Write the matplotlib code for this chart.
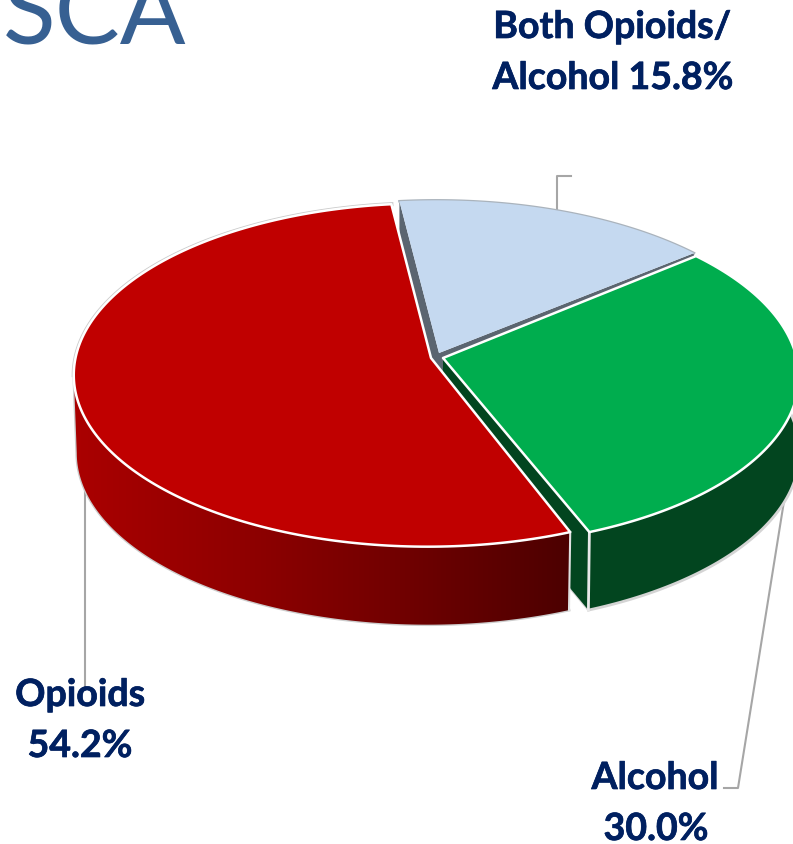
import numpy as np
import matplotlib
matplotlib.use('Agg')
import matplotlib.pyplot as plt
import matplotlib.patheffects as pe
from matplotlib.colors import LinearSegmentedColormap
from matplotlib.patches import Polygon

# chart data
labels = ['Opioids', 'Both Opioids/\nAlcohol', 'Alcohol']
values = [54.2, 15.8, 30.0]
top_colors = ['#c00000', '#c5d9f0', '#00ad4e']
side_colors = ['#5a0000', '#5b6570', '#02451f']
apexes = [(431, 358), (439, 353), (443, 358)]

# pie shape in pixels, the far side is a bit smaller than the near side
RX = 356.0
RY = 170.0
RX_BOTTOM = 349.0
K = 0.099
DEPTH = 78
START = 158.4

red_wall = LinearSegmentedColormap.from_list(
    'red_wall', ['#aa0000', '#900000', '#700000', '#4c0000'])


def rim(apex, t, rx=RX, dy=0, shift=(0, 0), skew=0.0):
    t = np.radians(t)
    w = 1 + K * np.cos(t)
    y = -RY * np.cos(t) / w
    return np.column_stack([apex[0] + shift[0] + rx * np.sin(t) / w + skew * y,
                            apex[1] + shift[1] + dy + y])


fig = plt.figure(figsize=(7.93, 8.44), dpi=100)
ax = fig.add_axes([0, 0, 1, 1])
ax.axis('off')

# slice angles come from the values, clockwise from the top
spans = np.array(values) / sum(values) * 360
t0 = {}
t1 = {}
t = START
for name, span in zip(labels, spans):
    t0[name] = t
    t1[name] = t + span
    t += span

red, blue, green = labels
i_red, i_blue, i_green = 0, 1, 2

# leader lines behind the pie
ax.plot([557, 557, 571], [215, 176, 176], color='#a6a6a6', lw=1.5, zorder=1)
ax.plot([789, 738, 724], [470, 788, 788], color='#a6a6a6', lw=1.5, zorder=1)
ax.plot([84.5, 84.5], [465, 688], color='#a6a6a6', lw=1.5, zorder=1)

# blue slice: cut faces show through the gaps
ap = apexes[i_blue]
tt = np.linspace(t0[blue], t1[blue], 80)
arc = rim(ap, tt, shift=(-3, 2))
for p in (arc[0], arc[-1]):
    ax.add_patch(Polygon([ap, p, p + [0, DEPTH], (ap[0], ap[1] + DEPTH)],
                         fc=side_colors[i_blue], ec='none', zorder=2))
ax.plot(arc[:, 0], arc[:, 1], color='#aab3bc', lw=1.8, zorder=2)
ax.add_patch(Polygon(np.vstack([[ap], arc]), fc=top_colors[i_blue],
                     ec='none', zorder=3))

# green slice
ap = apexes[i_green]
tt = np.linspace(t0[green], t1[green], 120)
g_top = rim(ap, tt, shift=(-2.4, 0), skew=0.0255)
g_bot = rim(ap, tt, RX_BOTTOM, DEPTH, shift=(6, 0), skew=-0.012)
end_top = g_top[-1]
end_bot = g_bot[-1]
ax.add_patch(Polygon([ap, end_top, end_bot, (ap[0], ap[1] + DEPTH)],
                     fc=side_colors[i_green], ec='none', zorder=4))
ax.add_patch(Polygon(np.vstack([g_top, g_bot[::-1]]), fc=side_colors[i_green],
                     ec='none', zorder=4))
ax.plot(g_bot[:, 0], g_bot[:, 1], color='#d4d4d4', lw=2, zorder=4)
ax.plot([ap[0], end_bot[0]], [ap[1] + DEPTH, end_bot[1]],
        color='#d4d4d4', lw=1.5, zorder=3.9)
ax.plot([end_top[0], end_bot[0]], [end_top[1], end_bot[1]], color='#e8e8e8', lw=2, zorder=5)
ax.add_patch(Polygon(np.vstack([[ap], g_top]), fc=top_colors[i_green],
                     ec='white', lw=1.8, joinstyle='round', zorder=5))

# red slice, wall shaded from left to right
ap = apexes[i_red]
tt = np.linspace(t0[red], 264.3, 240)
r_top = rim(ap, tt, 352, shift=(-3.5, 0))
r_bot = rim(ap, tt, RX_BOTTOM, DEPTH, shift=(-3.5, 0))
wall = Polygon(np.vstack([r_top, r_bot[::-1]]), fc='none', ec='none',
               transform=ax.transData, zorder=6)
ax.add_patch(wall)
shade = ax.imshow(np.linspace(0, 1, 256)[None, :], cmap=red_wall, aspect='auto',
                  extent=[r_top[:, 0].min(), r_top[:, 0].max(), 640, 360], zorder=6)
shade.set_clip_path(wall)
edge = np.vstack([r_bot, r_top[-1]])
ax.plot(edge[:, 0], edge[:, 1], color='#cccccc', lw=2, zorder=5.9)
ax.plot([r_top[0, 0], r_bot[0, 0]], [r_top[0, 1], r_bot[0, 1]],
        color='#e0e0e0', lw=1.5, zorder=6.1)
tt = np.linspace(t0[red], t1[red], 200)
arc = rim(ap, tt, 352, shift=(-3.5, 0))
back = arc[tt >= 264]
ax.plot(back[:, 0], back[:, 1], color='#cccccc', lw=3, zorder=5.9)
ax.add_patch(Polygon(np.vstack([[ap], arc]), fc=top_colors[i_red],
                     ec='white', lw=1.8, joinstyle='round', zorder=7))

# text
navy = '#002060'
ax.text(3, 44, 'SCA', family='Lato', weight='normal', fontsize=70,
        color='#376092', ha='left', va='baseline', zorder=8)
txt = dict(family='Lato', weight='bold', fontsize=27, color=navy,
           ha='center', va='baseline', zorder=8,
           path_effects=[pe.withStroke(linewidth=0.5, foreground=navy)])
ax.text(612, 38, 'Both Opioids/', **txt)
ax.text(613, 89, 'Alcohol %.1f%%' % values[i_blue], **txt)
ax.text(80, 706, labels[i_red], **txt)
ax.text(80, 757, '%.1f%%' % values[i_red], **txt)
ax.text(655, 789, labels[i_green], **txt)
ax.text(656, 840, '%.1f%%' % values[i_green], **txt)

ax.set_xlim(0, 793)
ax.set_ylim(844, 0)
fig.savefig('out.png', dpi=100)
